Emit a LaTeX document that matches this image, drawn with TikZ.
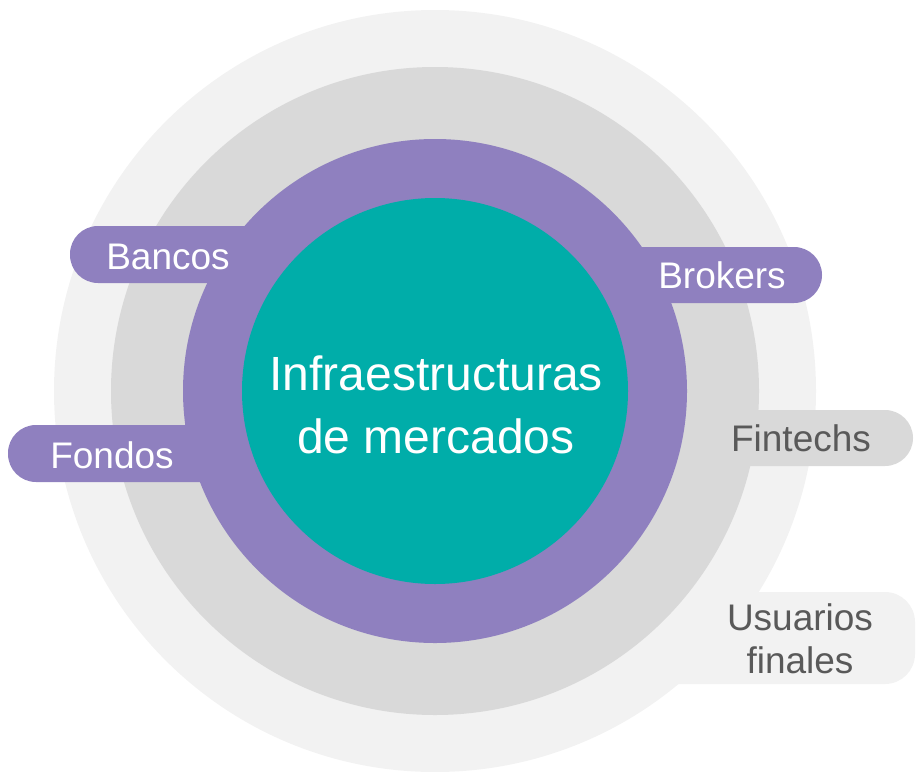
\documentclass[tikz,border=0pt]{standalone}
\usepackage{fontspec}
\setmainfont{Liberation Sans}
\usepackage{xcolor}
\definecolor{ringlight}{HTML}{F2F2F2}
\definecolor{ringgray}{HTML}{D9D9D9}
\definecolor{ringpurple}{HTML}{8F80BF}
\definecolor{coreteal}{HTML}{00ADA9}
\definecolor{textgray}{HTML}{595959}
\begin{document}
\begin{tikzpicture}[x=1pt, y=-1pt,
  lbl/.style={anchor=base, inner sep=0, text=white, font=\fontsize{37}{43}\selectfont},
  lblgray/.style={lbl, text=textgray},
  title/.style={lbl, font=\fontsize{48}{63}\selectfont}]
\useasboundingbox (0,0) rectangle (917,771);
% outer rings
\fill[ringlight] (435,391) circle[radius=381];
\fill[ringlight, rounded corners=30] (640,592) rectangle (915,684);
\fill[ringgray] (435,391) circle[radius=324];
\fill[ringgray, rounded corners=28] (640,410) rectangle (913,466);
% purple tabs
\foreach \xa/\ya/\xb/\yb in {70/226/330/283, 8/425/300/482, 560/247/822/303}
  \fill[ringpurple, rounded corners=28] (\xa,\ya) rectangle (\xb,\yb);
\fill[ringpurple] (435,391) circle[radius=252];
\fill[coreteal] (435,391) circle[radius=193];
% labels
\node[title] (infra) at (436,390) {Infraestructuras};
\node[title] (mercados) at (436,453) {de mercados};
\node[lbl] (bancos) at (168,269) {Bancos};
\node[lbl] (fondos) at (112,468) {Fondos};
\node[lbl] (brokers) at (722,288) {Brokers};
\node[lblgray] (fintechs) at (801,451) {Fintechs};
\node[lblgray] (usuarios) at (800,630) {Usuarios};
\node[lblgray] (finales) at (800,673) {finales};
\end{tikzpicture}
\end{document}
